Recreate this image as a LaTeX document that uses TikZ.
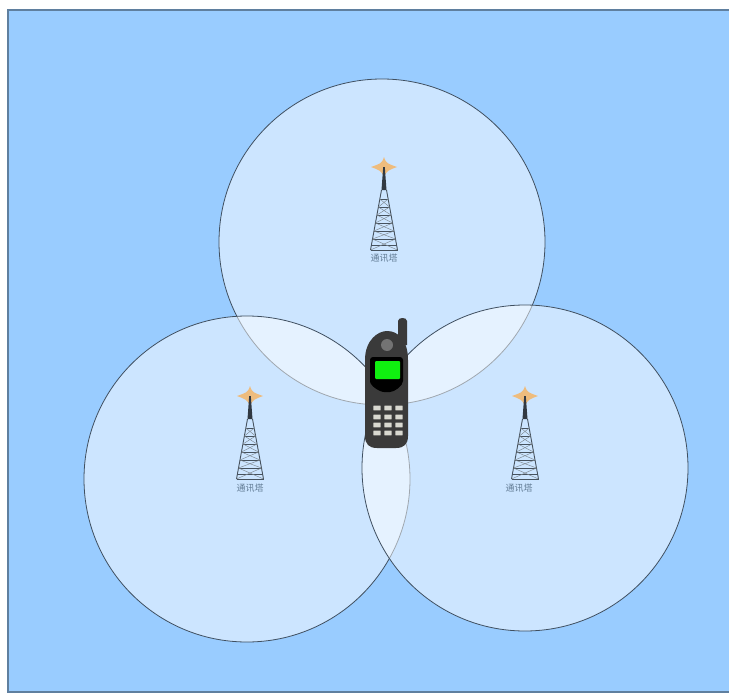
\documentclass[tikz,border=0pt]{standalone}
\usepackage{fontspec}
\newfontfamily\cjk{Noto Sans CJK SC}
\definecolor{skybg}{HTML}{99CCFF}
\definecolor{edgeblue}{HTML}{5F7F9F}
\definecolor{ringline}{HTML}{3F4F60}
\definecolor{towerline}{HTML}{46525E}
\definecolor{flare}{HTML}{F5B567}
\definecolor{phonebody}{HTML}{3A3A3A}
\definecolor{keycol}{HTML}{D8D8D0}
\definecolor{screengreen}{HTML}{10F010}
\tikzset{
  x=1pt,y=-1pt,
  cell/.style={draw=ringline,line width=0.8pt,fill=white,fill opacity=0.5},
  towerlabel/.style={font=\cjk\fontsize{9}{9}\selectfont,text=towerline!65!skybg,inner sep=0pt},
  pics/tower/.style={code={
    % flare
    \fill[flare,opacity=.85] (-13,-68) .. controls (-5,-71) and (-2,-71) .. (0,-78)
       .. controls (2,-71) and (5,-71) .. (13,-68)
       .. controls (5,-65) and (2,-64) .. (0,-58)
       .. controls (-2,-64) and (-5,-65) .. (-13,-68) -- cycle;
    % mast
    \fill[towerline!70!black] (-0.8,-68) -- (0.8,-68) -- (2.5,-45) -- (-2.5,-45) -- cycle;
    \draw[towerline,line width=0.9pt] (-2.5,-45) -- (-13.5,15) (2.5,-45) -- (13.5,15);
    \foreach \y/\w in {-36/4.2,-28/5.6,-20/7,-12/8.5,-4/10,4/11.5,10/12.6,15/13.5}{
      \draw[towerline,line width=0.7pt] (-\w,\y) -- (\w,\y);
    }
    \foreach \a/\b/\c/\d in {-4.2/-36/5.6/-28,4.2/-36/-5.6/-28,-5.6/-28/7/-20,5.6/-28/-7/-20,-7/-20/8.5/-12,7/-20/-8.5/-12,-8.5/-12/10/-4,8.5/-12/-10/-4,-10/-4/11.5/4,10/-4/-11.5/4,-11.5/4/13.5/15,11.5/4/-13.5/15}{
      \draw[towerline!70!white,line width=0.45pt] (\a,\b) -- (\c,\d);
    }
  }}
}
\begin{document}
\begin{tikzpicture}
\useasboundingbox (0,0) rectangle (729,693);
\fill[white] (0,0) rectangle (729,693);
\node[draw=edgeblue,line width=2pt,fill=skybg,minimum width=730pt,minimum height=682pt,inner sep=0pt,anchor=north west] (sky) at (6.5,9) {};
% coverage cells
\node[cell,circle,minimum size=326pt,inner sep=0pt] (cellA) at (382,242) {};
\node[cell,circle,minimum size=326pt,inner sep=0pt] (cellB) at (247,479) {};
\node[cell,circle,minimum size=326pt,inner sep=0pt] (cellC) at (525,468) {};
% towers
\pic at (384,235) {tower};
\node[towerlabel] (labelA) at (384,258) {通讯塔};
\pic at (250,464) {tower};
\node[towerlabel] (labelB) at (250,488) {通讯塔};
\pic at (525,464) {tower};
\node[towerlabel] (labelC) at (519,488) {通讯塔};
% phone
\fill[phonebody] (398,334) -- (398,321) .. controls (398,317) and (407,317) .. (407,321) -- (407,345) -- (398,345) -- cycle;
\fill[phonebody] (365,360) .. controls (365,340) and (378,331) .. (387,331)
   .. controls (398,331) and (408,340) .. (408,360) -- (408,436)
   .. controls (408,444) and (404,448) .. (396,448) -- (377,448)
   .. controls (369,448) and (365,444) .. (365,436) -- cycle;
\fill[black,rounded corners=3pt] (370,357) -- (403,357) -- (403,378) .. controls (403,386) and (394,392) .. (387,392)
   .. controls (380,392) and (370,386) .. (370,378) -- cycle;
\fill[screengreen,rounded corners=1pt] (375,361) rectangle (400,379);
\fill[gray!90!black] (387,345) circle (6);
\foreach \ky in {408,417,425,433}{
  \foreach \kx in {377,388,399}{
    \fill[keycol,rounded corners=0.5pt] (\kx-3.7,\ky-2.4) rectangle (\kx+3.7,\ky+2.4);
  }
}
\end{tikzpicture}
\end{document}
